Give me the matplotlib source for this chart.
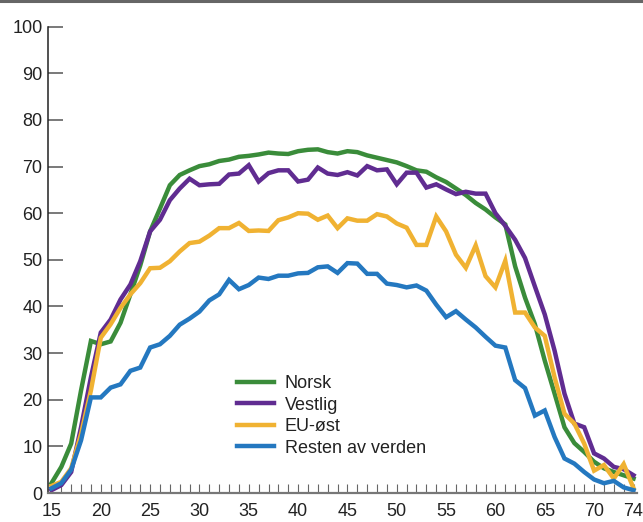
import matplotlib
matplotlib.use("Agg")
import matplotlib.pyplot as plt
from matplotlib.lines import Line2D

plt.rcParams['font.family'] = ['Liberation Sans', 'DejaVu Sans']

ages = list(range(15, 75))

norsk = [2.1, 5.6, 10.6, 22.0, 32.6, 31.9, 32.5, 36.5, 42.6, 48.8,
         56.1, 61.0, 66.0, 68.2, 69.2, 70.1, 70.5, 71.2, 71.5, 72.1,
         72.3, 72.6, 73.0, 72.8, 72.7, 73.3, 73.6, 73.7, 73.1, 72.8,
         73.3, 73.1, 72.4, 71.9, 71.4, 70.9, 70.1, 69.2, 68.9, 67.7,
         66.7, 65.3, 63.9, 62.2, 60.8, 59.1, 57.6, 48.6, 41.9, 36.2,
         28.4, 21.3, 14.1, 10.7, 8.8, 6.7, 5.3, 4.5, 3.8, 3.1]

vestlig = [0.6, 1.7, 4.5, 14.1, 24.8, 34.4, 37.2, 41.5, 44.7, 49.7,
           56.1, 58.6, 62.8, 65.3, 67.4, 66.0, 66.2, 66.3, 68.3, 68.5,
           70.3, 66.8, 68.6, 69.2, 69.2, 66.8, 67.2, 69.8, 68.5, 68.2,
           68.8, 68.1, 70.1, 69.2, 69.4, 66.2, 68.7, 68.7, 65.5, 66.2,
           65.1, 64.1, 64.6, 64.2, 64.2, 60.0, 57.3, 54.3, 50.4, 44.3,
           38.3, 30.5, 21.3, 14.9, 14.1, 8.5, 7.4, 5.6, 5.1, 3.8]

eu_ost = [1.5, 2.4, 5.3, 12.7, 22.0, 33.3, 36.2, 39.7, 42.6, 45.0,
          48.2, 48.3, 49.7, 51.8, 53.6, 53.9, 55.2, 56.8, 56.8, 57.9,
          56.2, 56.3, 56.2, 58.5, 59.1, 60.0, 59.9, 58.6, 59.5, 56.8,
          58.9, 58.4, 58.4, 59.8, 59.3, 57.8, 56.9, 53.2, 53.2, 59.3,
          56.1, 51.1, 48.3, 53.1, 46.5, 44.1, 49.8, 38.7, 38.7, 35.5,
          33.7, 24.8, 17.0, 14.9, 10.6, 4.8, 6.0, 3.1, 6.2, 1.0]

resten = [1.0, 2.1, 5.0, 11.3, 20.5, 20.5, 22.6, 23.3, 26.2, 26.9,
          31.2, 31.9, 33.7, 36.1, 37.4, 38.9, 41.3, 42.6, 45.7, 43.7,
          44.6, 46.2, 45.9, 46.6, 46.6, 47.1, 47.2, 48.4, 48.6, 47.2,
          49.3, 49.2, 47.0, 47.0, 44.9, 44.6, 44.1, 44.5, 43.4, 40.4,
          37.7, 39.0, 37.2, 35.5, 33.5, 31.6, 31.2, 24.2, 22.5, 16.6,
          17.7, 12.0, 7.4, 6.3, 4.5, 2.9, 2.1, 2.6, 1.2, 0.6]

series_names = ["Norsk", "Vestlig", "EU-øst", "Resten av verden"]
colors = ["#3A8C3A", "#602C91", "#F0B232", "#2478C0"]

x_labels = [15, 20, 25, 30, 35, 40, 45, 50, 55, 60, 65, 70, 74]
y_ticks = list(range(0, 101, 10))

W, H = 643, 522
fig = plt.figure(figsize=(W / 100, H / 100), dpi=100)
ax = fig.add_axes([48 / W, (H - 493) / H, 588.5 / W, (493 - 26.7) / H])

for vals, name, c in zip([norsk, vestlig, eu_ost, resten], series_names, colors):
    ax.plot(ages, vals, color=c, lw=3.2, label=name, solid_joinstyle='miter')

ax.set_xlim(14.65, 74.3)
ax.set_ylim(0, 100)

ax.set_xticks(ages)
ax.set_xticklabels([str(a) if a in x_labels else "" for a in ages])
ax.set_yticks(y_ticks)
ax.set_yticklabels([str(v) for v in y_ticks])

ax.tick_params(axis='x', direction='in', length=6.5, width=0.8, color='#666666',
               labelsize=13, labelcolor='#222222', pad=7)
ax.tick_params(axis='y', direction='in', length=10.8, width=1.1, color='#555555',
               labelsize=13, labelcolor='#222222', pad=4)

for s in ['top', 'right']:
    ax.spines[s].set_visible(False)
ax.spines['left'].set_color('#222222')
ax.spines['left'].set_linewidth(1.1)
ax.spines['bottom'].set_color('#777777')
ax.spines['bottom'].set_linewidth(1.6)

leg = ax.legend(loc='center left', bbox_to_anchor=(236.7 / W, (H - 416) / H),
                bbox_transform=fig.transFigure, frameon=False, fontsize=13,
                handlelength=2.05, handletextpad=0.6, labelspacing=0.25,
                borderpad=0, borderaxespad=0)
for t in leg.get_texts():
    t.set_color('#222222')

fig.add_artist(Line2D([0, 1], [1 - 1.2 / H, 1 - 1.2 / H], transform=fig.transFigure,
                      color='#666666', lw=2.2))

fig.savefig("out.png", dpi=100)
